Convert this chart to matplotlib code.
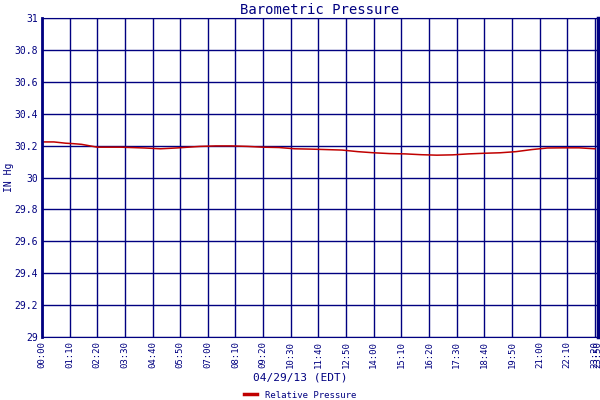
import matplotlib
matplotlib.use("Agg")
import matplotlib.pyplot as plt
from matplotlib.lines import Line2D

times = [0,30,60,80,100,140,200,260,300,340,400,440,480,520,560,600,640,680,720,760,800,
         840,880,920,960,1000,1040,1080,1120,1160,1200,1240,1280,1320,1360,1400]
pressure = [30.223,30.223,30.215,30.212,30.208,30.19,30.19,30.185,30.18,30.185,30.195,30.198,
            30.198,30.195,30.19,30.188,30.18,30.178,30.175,30.172,30.162,30.155,30.15,30.148,
            30.143,30.14,30.142,30.148,30.152,30.155,30.162,30.175,30.185,30.186,30.186,30.18]
tick_labels = ["00:00","01:10","02:20","03:30","04:40","05:50","07:00","08:10","09:20","10:30",
               "11:40","12:50","14:00","15:10","16:20","17:30","18:40","19:50","21:00","22:10",
               "23:20","23:50"]
tick_pos = [i*70 for i in range(21)] + [1408]
yticks = [29,29.2,29.4,29.6,29.8,30,30.2,30.4,30.6,30.8,31]
ylabels = ["29","29.2","29.4","29.6","29.8","30","30.2","30.4","30.6","30.8","31"]

navy = "#000080"
red = "#c00000"
font = "DejaVu Sans Mono"

fig = plt.figure(figsize=(6,4), dpi=100)
ax = fig.add_axes([42/600, 63/400, 556/600, 319/400])
ax.plot(times, pressure, color=red, lw=1.1)
ax.set_xlim(0, 1408)
ax.set_ylim(29, 31)
ax.set_xticks(tick_pos)
ax.set_xticklabels(tick_labels, rotation=90, fontsize=6.5, color=navy, family=font)
ax.set_yticks(yticks)
ax.set_yticklabels(ylabels, fontsize=7, color=navy, family=font)
ax.tick_params(length=0, pad=3)
ax.grid(True, color=navy, lw=1)
for s in ax.spines.values():
    s.set_color(navy)
ax.spines["left"].set_linewidth(2)
ax.spines["right"].set_linewidth(2.5)
ax.set_title("Barometric Pressure", color=navy, fontsize=10, family=font, pad=3)
fig.text(4/600, 1-177/400, "IN Hg", rotation=90, ha="left", va="center", color=navy, fontsize=7, family=font)
fig.text(0.5, 1-378/400, "04/29/13 (EDT)", ha="center", va="center", color=navy, fontsize=8, family=font)
fig.legend([Line2D([], [], color=red, lw=2.5)], ["Relative Pressure"], loc="center",
           bbox_to_anchor=(0.5, 1-395/400), frameon=False,
           prop={"family": font, "size": 6.5}, handlelength=1.5, labelcolor=navy)
fig.savefig("out.png", dpi=100)
